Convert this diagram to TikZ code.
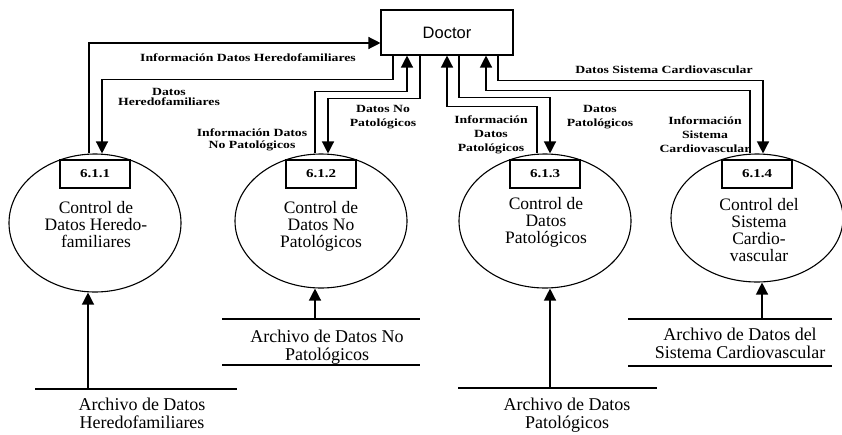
\documentclass[tikz,border=0pt]{standalone}
\usepackage{fontspec}
\setmainfont{Liberation Serif}
\newfontfamily\lblfont[FakeStretch=1.25]{Liberation Serif}
\newfontfamily\docfont{Liberation Sans}
\usetikzlibrary{calc,shapes,arrows.meta}

\tikzset{
  flow/.style={line width=1.3pt,-{Triangle[length=12pt,width=12pt]}},
  proc/.style={ellipse,draw,line width=1.1pt,minimum width=172pt,inner sep=0pt},
  proctext/.style={align=center,inner sep=0pt,font=\fontsize{17.5}{17}\selectfont},
  numbox/.style={draw,line width=1.1pt,minimum width=70pt,minimum height=28pt,anchor=north,inner sep=0pt,
    font=\lblfont\bfseries\fontsize{12}{12}\selectfont},
  store/.style={align=center,anchor=north,inner sep=0pt,font=\fontsize{18}{18}\selectfont},
  storeline/.style={line width=1.3pt},
  lbl/.style={align=center,inner sep=0pt,font=\lblfont\bfseries\fontsize{11}{12}\selectfont},
  ent/.style={draw,line width=1.1pt,minimum width=132pt,minimum height=45pt,inner sep=0pt,
    font=\docfont\fontsize{16.5}{18}\selectfont}
}

\begin{document}
\begin{tikzpicture}[x=1pt,y=-1pt]
  \useasboundingbox (0,0) rectangle (842,434);

  % entidad externa
  \node[ent] (doctor) at (447,32.5) {Doctor};

  % procesos
  \node[proc,minimum height=138pt] (p1) at (95,223) {};
  \node[proc,minimum height=134pt] (p2) at (321,221) {};
  \node[proc,minimum height=134pt] (p3) at (545,221) {};
  \node[proc,minimum height=128pt] (p4) at (757,218) {};
  \node[numbox] (n1) at ([yshift=-6pt]p1.north) {6.1.1};
  \node[numbox] (n2) at ([yshift=-6pt]p2.north) {6.1.2};
  \node[numbox] (n3) at ([yshift=-6pt]p3.north) {6.1.3};
  \node[numbox] (n4) at ([yshift=-6pt]p4.north) {6.1.4};
  \node[proctext] (t1) at (96,225) {Control de\\Datos Heredo-\\familiares};
  \node[proctext] (t2) at (321,226) {Control de\\Datos No\\Patológicos};
  \node[proctext] (t3) at (546,222) {Control de\\Datos\\Patológicos};
  \node[proctext] (t4) at (759,230) {Control del\\Sistema\\Cardio-\\vascular};

  % almacenes
  \node[store] (s1) at (142,398) {Archivo de Datos\\Heredofamiliares};
  \node[store] (s2) at (327,330) {Archivo de Datos No\\Patológicos};
  \node[store] (s3) at (567,398) {Archivo de Datos\\Patológicos};
  \node[store] (s4) at (740,328) {Archivo de Datos del\\Sistema Cardiovascular};
  \draw[storeline] (35,389) -- (237,389);
  \draw[storeline] (222,319) -- (420,319) (222,365) -- (420,365);
  \draw[storeline] (458,388) -- (657,388);
  \draw[storeline] (628,319) -- (832,319) (628,366) -- (832,366);
  \coordinate (s1in) at (88,389);
  \coordinate (s2in) at (315,319);
  \coordinate (s3in) at (550,388);
  \coordinate (s4in) at (762,319);
  \draw[flow] (s1in) -- (s1in |- p1.south);
  \draw[flow] (s2in) -- (s2in |- p2.south);
  \draw[flow] (s3in) -- (s3in |- p3.south);
  \draw[flow] (s4in) -- (s4in |- p4.south);

  % flujos con el doctor
  \draw[flow] ([xshift=-6pt]p1.north) |- ([yshift=-10.5pt]doctor.west);
  \draw[flow] ([xshift=-54pt]doctor.south) -- ++(0,24) -| ([xshift=7pt]p1.north);
  \draw[flow] ([xshift=-6pt]p2.north) -- ++(0,-62) -| ([xshift=-40pt]doctor.south);
  \draw[flow] ([xshift=-27pt]doctor.south) -- ++(0,43) -| ([xshift=7pt]p2.north);
  \draw[flow] ([xshift=-8pt]p3.north) -- ++(0,-47) -| (doctor.south);
  \draw[flow] ([xshift=12pt]doctor.south) -- ++(0,42) -| ([xshift=5pt]p3.north);
  \draw[flow] ([xshift=-7pt]p4.north) -- ++(0,-63) -| ([xshift=39pt]doctor.south);
  \draw[flow] ([xshift=51pt]doctor.south) -- ++(0,25) -| ([xshift=6pt]p4.north);

  % etiquetas
  \node[lbl] (l1) at (248,58) {Información Datos Heredofamiliares};
  \node[lbl,font=\lblfont\bfseries\fontsize{11}{10}\selectfont] (l2) at (169,97) {Datos\\Heredofamiliares};
  \node[lbl] (l3) at (252,140) {Información Datos\\No Patológicos};
  \node[lbl,font=\lblfont\bfseries\fontsize{11}{14}\selectfont] (l4) at (383,117) {Datos No\\Patológicos};
  \node[lbl,font=\lblfont\bfseries\fontsize{11}{14}\selectfont] (l5) at (491,135) {Información\\Datos\\Patológicos};
  \node[lbl,font=\lblfont\bfseries\fontsize{11}{14}\selectfont] (l6) at (600,117) {Datos\\Patológicos};
  \node[lbl] (l7) at (664,70) {Datos Sistema Cardiovascular};
  \node[lbl,font=\lblfont\bfseries\fontsize{11}{14}\selectfont] (l8) at (705,135) {Información\\Sistema\\Cardiovascular};
\end{tikzpicture}
\end{document}
